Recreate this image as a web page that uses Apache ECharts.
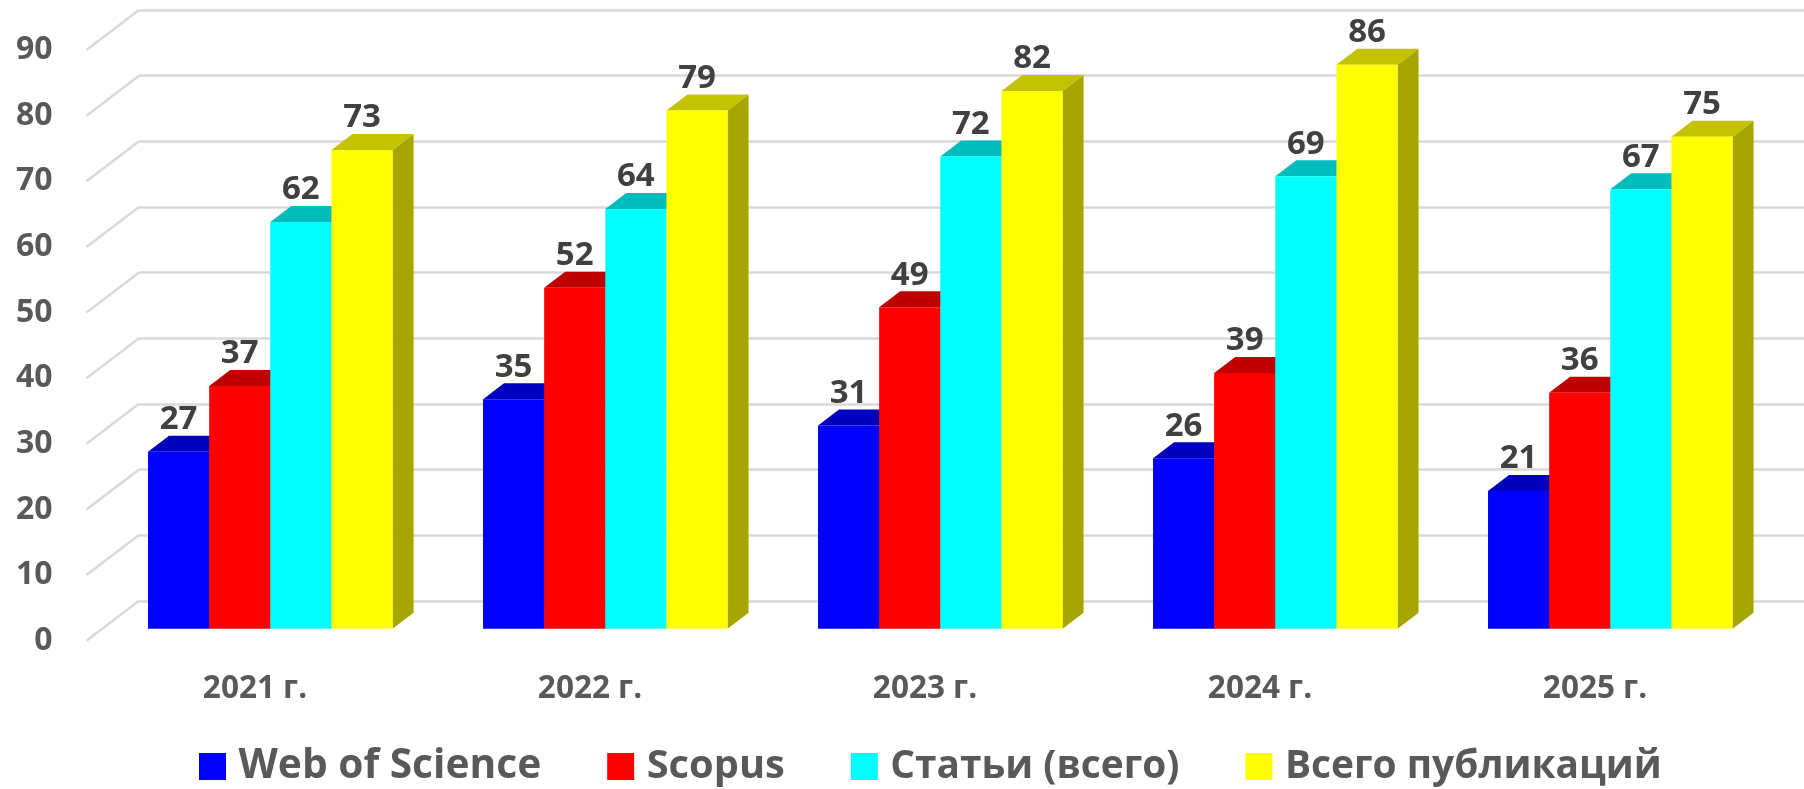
<!DOCTYPE html>
<html><head><meta charset="utf-8">
<style>html,body{margin:0;padding:0;background:#fff}#c{width:1804px;height:789px}</style>
<script src="https://cdn.jsdelivr.net/npm/echarts@6/dist/echarts.min.js"></script>
</head><body><div id="c"></div>
<script>
const categories = ['2021 г.','2022 г.','2023 г.','2024 г.','2025 г.'];
const seriesNames = ['Web of Science','Scopus','Статьи (всего)','Всего публикаций'];
const webOfScience = [27,35,31,26,21];
const scopus = [37,52,49,39,36];
const articles = [62,64,72,69,67];
const allPublications = [73,79,82,86,75];
const yTicks = [0,10,20,30,40,50,60,70,80,90];
const legendFontSizes = [40.7,39.8,38.8,38.9];
const FONT = '"Open Sans"';
const palette = [
 {front:'#0000ff',top:'#0000bf',side:'#0000a6'},
 {front:'#ff0000',top:'#bf0000',side:'#a60000'},
 {front:'#00ffff',top:'#00bcbc',side:'#00a6a6'},
 {front:'#ffff00',top:'#c3c300',side:'#a6a600'}
];
const DX=21, DY=16, BAR_RATIO=0.1825;
function barSeries(name, values, k){
  const c = palette[k];
  return {
    type:'custom', name, xAxisIndex:2, yAxisIndex:2, coordinateSystem:'cartesian2d',
    itemStyle:{color:c.front},
    data: values.map((v,i)=>[i,v]),
    encode:{x:0,y:1},
    clip:false,
    renderItem(params, api){
      const i=api.value(0), v=api.value(1);
      const p=api.coord([i,v]), b=api.coord([i,0]);
      const w=api.size([1,0])[0]*BAR_RATIO;
      const x0=p[0]+(k-2)*w, x1=x0+w, yt=p[1], yb=b[1];
      return {type:'group',children:[
        {type:'polygon',z2:k*10+1,shape:{points:[[x1,yt],[x1+DX,yt-DY],[x1+DX,yb-DY],[x1,yb]]},style:{fill:c.side}},
        {type:'polygon',z2:k*10+2,shape:{points:[[x0,yt],[x0+DX,yt-DY],[x1+DX,yt-DY],[x1,yt]]},style:{fill:c.top}},
        {type:'rect',z2:k*10+3,shape:{x:x0,y:yt,width:w,height:yb-yt},style:{fill:c.front}},
        {type:'text',z2:100,style:{x:(x0+x1)/2,y:yt-32,text:String(v),align:'center',verticalAlign:'middle',
          font:'bold 33px '+FONT,fill:'#404040'}}
      ]};
    }
  };
}
const chart = echarts.init(document.getElementById('c'),null,{renderer:'canvas'});
chart.setOption({
  animation:false,
  backgroundColor:'#fff',
  legend:{
    left:199, top:746, padding:0, itemWidth:27, itemHeight:27, itemGap:66, icon:'rect',
    selectedMode:false,
    data:seriesNames.map((n,k)=>({name:n,itemStyle:{color:palette[k].front},
      textStyle:{fontFamily:FONT,fontWeight:'bold',fontSize:legendFontSizes[k],color:'#595959',padding:[4,0,0,7.5]}})),
    textStyle:{fontFamily:FONT,fontWeight:'bold',fontSize:40,color:'#595959',padding:[4,0,0,7.5]}
  },
  grid:[
    {left:139,right:0,top:10,height:591},
    {left:87.5,top:50,height:590.7,width:1675},
    {left:102.8,top:38.4,height:590.4,width:1675}
  ],
  xAxis:[
    {gridIndex:0,type:'category',data:categories,show:false},
    {gridIndex:1,type:'category',data:categories,
     axisLine:{show:false},axisTick:{show:false},
     axisLabel:{margin:32,fontFamily:FONT,fontWeight:'bold',fontSize:31.5,color:'#595959'}},
    {gridIndex:2,type:'category',data:categories,show:false}
  ],
  yAxis:[
    {gridIndex:0,type:'value',min:0,max:90,interval:10,axisLine:{show:false},axisTick:{show:false},
     axisLabel:{show:false},splitLine:{show:true,lineStyle:{color:'#d9d9d9',width:2.5}}},
    {gridIndex:1,type:'value',min:0,max:90,interval:10,axisLine:{show:false},axisTick:{show:false},splitLine:{show:false},
     axisLabel:{margin:35,fontFamily:FONT,fontWeight:'bold',fontSize:32,color:'#595959'}},
    {gridIndex:2,type:'value',min:0,max:90,interval:10,show:false,splitLine:{show:false}}
  ],
  series:[
    {type:'custom',name:'wall',xAxisIndex:1,yAxisIndex:1,clip:false,silent:true,
     data:yTicks.map(v=>[0,v]),encode:{x:0,y:1},
     renderItem(params,api){
       const p=api.coord([0,api.value(1)]);
       const x=p[0]-api.size([1,0])[0]/2-1;
       return {type:'line',z2:0,shape:{x1:x,y1:p[1],x2:x+52.5,y2:p[1]-40},
         style:{stroke:'#d9d9d9',lineWidth:2.5,fill:null}};
     }},
    barSeries(seriesNames[0],webOfScience,0),
    barSeries(seriesNames[1],scopus,1),
    barSeries(seriesNames[2],articles,2),
    barSeries(seriesNames[3],allPublications,3)
  ]
});
</script></body></html>
